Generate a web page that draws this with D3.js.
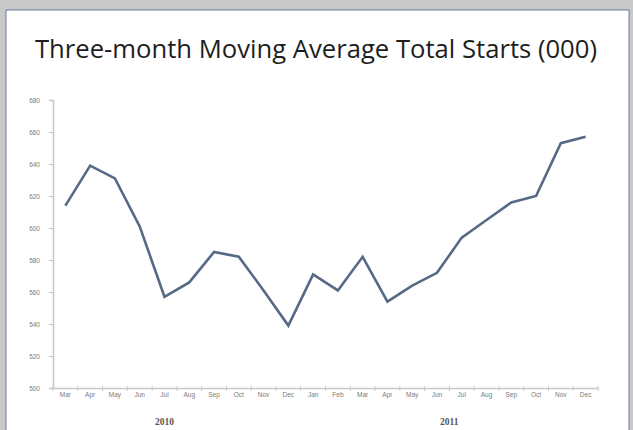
<!DOCTYPE html>
<html><head><meta charset="utf-8">
<script src="https://cdn.jsdelivr.net/npm/d3@7"></script>
<style>html,body{margin:0;padding:0;background:#c9c9c9;overflow:hidden}</style>
</head><body>
<svg id="c" width="633" height="430"></svg>
<script>
const months = ["Mar","Apr","May","Jun","Jul","Aug","Sep","Oct","Nov","Dec","Jan","Feb","Mar","Apr","May","Jun","Jul","Aug","Sep","Oct","Nov","Dec"];
const years = ["2010","2010","2010","2010","2010","2010","2010","2010","2010","2010","2011","2011","2011","2011","2011","2011","2011","2011","2011","2011","2011","2011"];
const values = [614,639,631,601,557,566,585,582,561,539,571,561,582,554,564,572,594,605,616,620,653,657];
const yTicks = [500,520,540,560,580,600,620,640,660,680];
const title = "Three-month Moving Average Total Starts (000)";

const svg = d3.select("#c");
svg.append("rect").attr("x",6).attr("y",10).attr("width",623).attr("height",430)
  .attr("fill","#fff").attr("stroke","#6a7aa0").attr("stroke-width",1);

svg.append("text").attr("x",316).attr("y",58).attr("text-anchor","middle")
  .attr("font-family","'Open Sans', Lato, sans-serif").attr("font-size",25)
  .attr("fill","#1e1e1e").attr("textLength",562).attr("lengthAdjust","spacingAndGlyphs").text(title);

const idx = d3.range(values.length);
const x = d3.scaleBand().domain(idx).range([53,598]);
const y = d3.scaleLinear().domain([500,680]).range([388,100]);
const cx = i => x(i) + x.bandwidth()/2;

// y axis
const ya = svg.append("g").attr("transform","translate(53,0)")
  .call(d3.axisLeft(y).tickValues(yTicks).tickSize(4).tickFormat(d3.format("d")));
ya.select(".domain").attr("stroke","#c8c8c8").attr("stroke-width",1.5);
ya.selectAll(".tick line").attr("stroke","#c8c8c8");
ya.selectAll(".tick text").attr("font-family","'Liberation Sans', sans-serif").attr("font-size",6.5).attr("fill","#7a7a7a").attr("dx",-6);

// x axis
const xa = svg.append("g").attr("transform","translate(0,388)")
  .call(d3.axisBottom(x).tickSize(0).tickFormat(i => months[i]));
xa.select(".domain").attr("stroke","#c8c8c8").attr("stroke-width",1.5);
xa.selectAll(".tick text").attr("font-family","'Liberation Sans', sans-serif").attr("font-size",6.5).attr("fill","#7a7a7a").attr("dy","0.9em");
// tick marks at band boundaries
svg.append("g").selectAll("line").data(d3.range(values.length+1)).join("line")
  .attr("x1",i => 53 + i*x.step()).attr("x2",i => 53 + i*x.step())
  .attr("y1",386).attr("y2",391).attr("stroke","#c8c8c8");

// year labels
const yrs = Array.from(new Set(years));
yrs.forEach(yr => {
  const ids = idx.filter(i => years[i]===yr);
  const mid = (cx(ids[0]) + cx(ids[ids.length-1]))/2 - (ids.length<12 ? (12-ids.length)*x.step()/2 : 0) + (ids.length<12? x.step()*0.5:0);
  svg.append("text").attr("x",mid).attr("y",425).attr("text-anchor","middle")
    .attr("font-family","'Liberation Serif', serif").attr("font-weight","bold").attr("font-size",9.5)
    .attr("fill","#555").text(yr);
});

svg.append("path").datum(values)
  .attr("d", d3.line().x((d,i)=>cx(i)).y(d=>y(d)))
  .attr("fill","none").attr("stroke","#566985").attr("stroke-width",2.6).attr("stroke-linejoin","miter");
</script>
</body></html>
